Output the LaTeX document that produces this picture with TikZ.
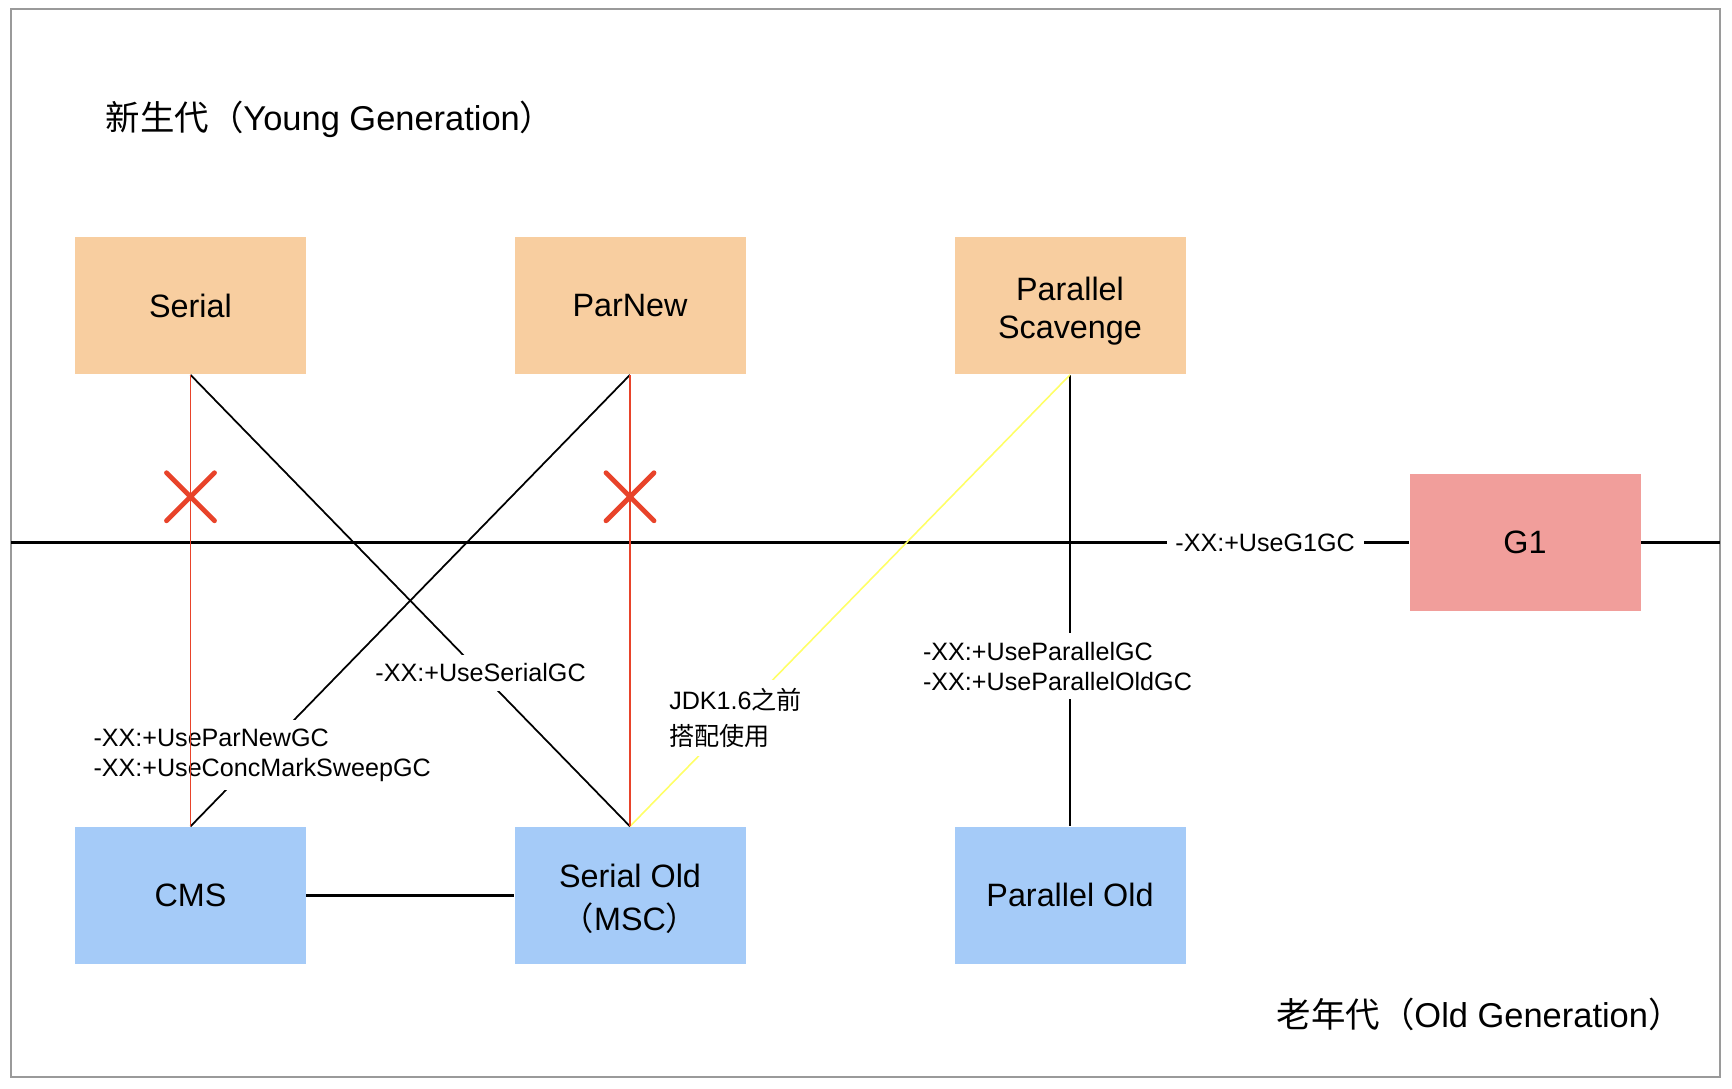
\documentclass[tikz,border=0pt]{standalone}
\usepackage{fontspec}
\setmainfont{Liberation Sans}
\newfontfamily\cjk{Noto Sans CJK SC}
\usetikzlibrary{arrows.meta, shapes.misc}

\definecolor{youngfill}{HTML}{F8CEA0}
\definecolor{oldfill}{HTML}{A5CBF8}
\definecolor{gonefill}{HTML}{F19E9B}
\definecolor{badred}{HTML}{E8432A}
\definecolor{jdkyellow}{HTML}{FFFF66}
\definecolor{framegray}{HTML}{9A9A9A}

\begin{document}
\begin{tikzpicture}[>=Stealth,
    gc/.style={minimum width=4.62cm, minimum height=2.74cm, inner sep=0pt, align=center, font=\fontsize{18.4}{22}\selectfont},
    young/.style={gc, fill=youngfill},
    old/.style={gc, fill=oldfill},
    flag/.style={fill=white, inner sep=5pt, align=left, font=\fontsize{14.3}{17}\selectfont},
    gen/.style={anchor=west, font=\fontsize{19.6}{23}\selectfont},
    link/.style={line width=1pt},
    nogo/.style={badred, line width=0.6pt},
    cross/.style={cross out, draw=badred, line width=2.8pt, line cap=round, minimum size=0.86cm, inner sep=0pt}]
    \useasboundingbox (0,0) rectangle (34.64,21.76);
    \draw[framegray, line width=1pt] (0.22,0.22) rectangle (34.40,21.58);

    \node[gen] (younggen) at (1.99,19.37) {{\cjk 新生代（}Young Generation{\cjk ）}};
    \node[gen] (oldgen) at (25.41,1.48) {{\cjk 老年代（}Old Generation{\cjk ）}};

    \node[young] (serial) at (3.81,15.64) {Serial};
    \node[young] (parnew) at (12.60,15.64) {ParNew};
    \node[young] (scavenge) at (21.40,15.64) {\rule{0pt}{0.68cm}Parallel\\Scavenge};
    \node[gc, fill=gonefill] (g1) at (30.50,10.91) {G1};
    \node[old] (cms) at (3.81,3.855) {CMS};
    \node[old, font=\fontsize{18.4}{24.5}\selectfont] (serialold) at (12.60,3.855) {\rule{0pt}{0.6cm}Serial Old\\{\cjk （}MSC{\cjk ）}};
    \node[old] (parold) at (21.40,3.855) {Parallel Old};

    \coordinate (lft) at (0.22,10.91);
    \coordinate (rgt) at (34.40,10.91);

    \draw[line width=1.6pt] (lft) -- node[flag, pos=0.897] (g1flag) {-XX:+UseG1GC} (g1.west);
    \draw[line width=1.6pt] (g1.east) -- (rgt);

    \draw[link] (serial.south) -- node[flag, pos=0.66] (serialflag) {-XX:+UseSerialGC} (serialold.north);
    \draw[link] (parnew.south) -- node[flag, pos=0.837, yshift=-0.05cm] (cmsflag) {-XX:+UseParNewGC\\-XX:+UseConcMarkSweepGC} (cms.north);
    \draw[link] (scavenge.south) -- node[flag, pos=0.645, xshift=-0.25cm] (parflag) {-XX:+UseParallelGC\\-XX:+UseParallelOldGC} (parold.north);
    \draw[line width=1.6pt] (cms.east) -- (serialold.west);
    \draw[jdkyellow, line width=0.9pt] (scavenge.south) -- node[flag, text=black, pos=0.76, font=\fontsize{14.3}{20}\selectfont] (jdkflag) {JDK1.6{\cjk 之前}\\{\cjk 搭配使用}} (serialold.north);

    \draw[nogo] (serial.south) -- node[cross, pos=0.27] (serialno) {} (cms.north);
    \draw[nogo] (parnew.south) -- node[cross, pos=0.27] (parnewno) {} (serialold.north);
\end{tikzpicture}
\end{document}
